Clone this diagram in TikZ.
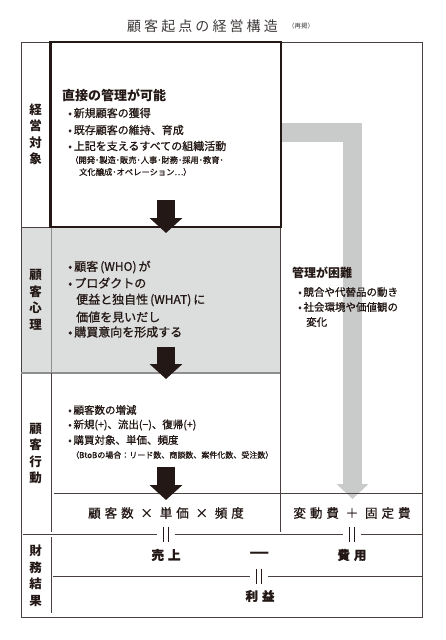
\documentclass[tikz,border=0pt]{standalone}
\usepackage{fontspec}
\usepackage{graphicx}
\setmainfont{Noto Sans CJK JP}
\newfontfamily\medfont{Noto Sans CJK JP}[FakeBold=0.9]
\newfontfamily\spacedfont{Noto Sans CJK JP}[LetterSpace=32, FakeBold=0.9]
\newfontfamily\titlefont{Noto Sans CJK JP}[LetterSpace=22]
\usetikzlibrary{arrows.meta}
\definecolor{ink}{HTML}{231815}
\definecolor{rulegray}{HTML}{4A4040}
\definecolor{psyfill}{HTML}{DCDDDD}
\definecolor{psyrule}{HTML}{8E8E8E}
\definecolor{flowgray}{HTML}{C9CACA}
\definecolor{titlegray}{HTML}{3E3A39}

\tikzset{
  frame/.style={draw=rulegray, line width=0.9pt},
  directbox/.style={draw=ink, line width=2.6pt, inner sep=0pt, minimum width=230.5pt, minimum height=185pt},
  blockarrow/.style={draw=ink, line width=18pt, -{Triangle[length=15pt,width=32pt]}},
  grayarrow/.style={draw=flowgray, line width=19pt, -{Triangle[length=15pt,width=31pt]}},
  eqv/.style={inner sep=0pt, minimum width=17pt, minimum height=15pt,
    path picture={\draw[ink, line width=1.1pt]
      ([xshift=-2.5pt]path picture bounding box.north) -- ([xshift=-2.5pt]path picture bounding box.south)
      ([xshift=2.5pt]path picture bounding box.north) -- ([xshift=2.5pt]path picture bounding box.south);}},
  txt/.style={inner sep=0pt, anchor=west, text=ink},
  head/.style={txt, font=\bfseries\fontsize{13}{15}\selectfont},
  item/.style={txt, font=\medfont\fontsize{11}{13}\selectfont},
  psyitem/.style={txt, font=\medfont\fontsize{12}{14}\selectfont},
  smallitem/.style={txt, font=\medfont\fontsize{10.5}{12}\selectfont},
  note/.style={txt, font=\medfont\fontsize{8.3}{10}\selectfont},
  side/.style={inner sep=0pt, align=center, text=ink, font=\bfseries\fontsize{12.5}{16.5}\selectfont},
  formula/.style={inner sep=0pt, text=ink, font=\spacedfont\fontsize{12.5}{14}\selectfont},
  result/.style={inner sep=0pt, text=ink, font=\spacedfont\bfseries\fontsize{12.5}{14}\selectfont}
}

\begin{document}
\begin{tikzpicture}[x=1pt,y=-1pt]
\useasboundingbox (0,0) rectangle (445,640);

% title
\node[text=titlegray, inner sep=0pt, font=\titlefont\fontsize{14}{16}\selectfont] (title) at (202.5,26) {顧客起点の経営構造};
\node[text=titlegray, inner sep=0pt, font=\fontsize{6.5}{8}\selectfont] (reprint) at (301,26) {（再掲）};

% grey band and frame
\fill[psyfill] (21,228) rectangle (279.5,373);
\draw[grayarrow] (281,132.5) -| (352.5,499);
\draw[frame] (21,42) rectangle (422,617);
\draw[draw=psyrule, line width=1.2pt] (21,373) -- (279.5,373);
\draw[draw=psyrule, line width=0.9pt] (51,228) -- (51,373);
\draw[frame] (21,227) -- (50,227);
\draw[frame] (51,373) -- (51,532);
\draw[frame] (51,537) -- (51,613);
\draw[frame] (280,227) -- (280,532);
\draw[frame] (54,493) -- (422,493);

% equal signs
\node[eqv] (eqA) at (166,534) {};
\node[eqv] (eqB) at (352,534) {};
\node[eqv] (eqC) at (259,576) {};
\coordinate (rowL) at (23,534);
\coordinate (rowR) at (422,534);
\coordinate (profL) at (53,576);
\coordinate (profR) at (422,576);
\draw[frame] (rowL) -- (eqA) -- (eqB) -- (rowR);
\draw[frame] (profL) -- (eqC) -- (profR);

% direct management box
\node[directbox] (direct) at (165.75,134.5) {};

% arrows
\coordinate (a1s) at (166,200);
\coordinate (a1e) at (166,233);
\coordinate (a2s) at (166,347);
\coordinate (a2e) at (166,379);
\coordinate (a3s) at (166,467);
\coordinate (a3e) at (166,500);
\draw[blockarrow] (a1s) -- (a1e);
\draw[blockarrow] (a2s) -- (a2e);
\draw[blockarrow] (a3s) -- (a3e);

% side labels
\node[side] (target) at (35.5,134.5) {経\\営\\対\\象};
\node[side] (psych) at (35.5,300) {顧\\客\\心\\理};
\node[side] (action) at (35.5,453.5) {顧\\客\\行\\動};
\node[side] (finance) at (35.5,576) {財\\務\\結\\果};

% managed
\node[head] (direct head) at (62,95) {直接の管理が可能};
\node[item] (d1) at (68,113) {•\,新規顧客の獲得};
\node[item] (d2) at (68,130) {•\,既存顧客の維持、育成};
\node[item] (d3) at (68,146) {•\,上記を支えるすべての組織活動};
\node[note] (d4) at (70,160) {（開発･製造･販売･人事･財務･採用･教育･};
\node[note] (d5) at (79,172) {文化醸成･オペレーション…）};

% customer psychology
\node[psyitem] (p1) at (68,267) {•\,顧客\,(WHO)\,が};
\node[psyitem] (p2) at (68,283) {•\,プロダクトの};
\node[psyitem] (p3) at (76,300) {便益と独自性\,(WHAT)\,に};
\node[psyitem] (p4) at (76,317) {価値を見いだし};
\node[psyitem] (p5) at (68,332) {•\,購買意向を形成する};

% hard to manage
\node[head, font=\bfseries\fontsize{12}{14}\selectfont] (hard head) at (292,273) {管理が困難};
\node[smallitem] (h1) at (298,292) {•\,競合や代替品の動き};
\node[smallitem] (h2) at (298,307) {•\,社会環境や価値観の};
\node[smallitem] (h3) at (306,322) {変化};

% customer action
\node[smallitem] (c1) at (68,410) {•\,顧客数の増減};
\node[smallitem] (c2) at (68,425) {•\,新規(+)、流出(−)、復帰(+)};
\node[smallitem] (c3) at (68,440) {•\,購買対象、単価、頻度};
\node[note, font=\medfont\fontsize{8}{10}\selectfont] (c4) at (71,455) {（BtoBの場合：リード数、商談数、案件化数、受注数）};

% formulas
\node[formula] (revenue calc) at (166,513) {顧客数 × 単価 × 頻度};
\node[formula] (cost calc) at (352,513) {変動費 ＋ 固定費};
\node[result] (sales) at (166,555) {売上};
\node[result, font=\bfseries\fontsize{14}{14}\selectfont] (minus) at (260,555) {\scalebox{1.6}[1.3]{—}};
\node[result] (costs) at (352,555) {費用};
\node[result] (profit) at (260,596) {利益};
\end{tikzpicture}
\end{document}
